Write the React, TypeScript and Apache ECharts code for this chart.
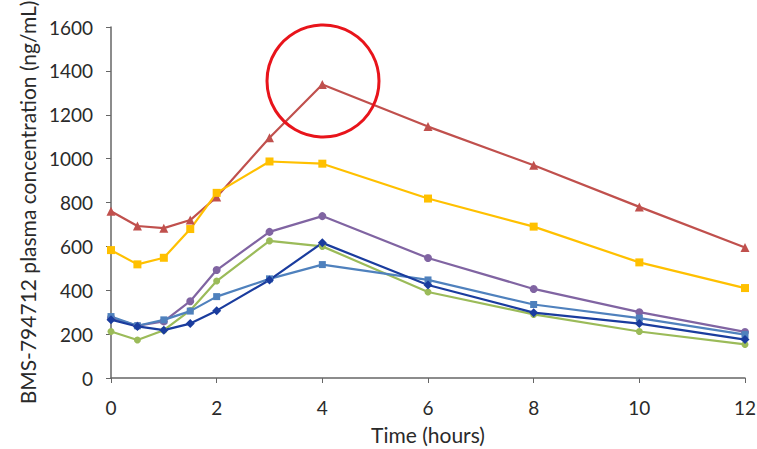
import React, { useEffect, useRef } from "react";
import * as echarts from "echarts";

const times = [0, 0.5, 1, 1.5, 2, 3, 4, 6, 8, 10, 12];
const seriesNames = ["Red", "Yellow", "Purple", "Green", "Light blue", "Dark blue"];
const redValues = [760, 693, 683, 720, 825, 1095, 1338, 1146, 970, 780, 595];
const yellowValues = [583, 518, 548, 679, 844, 987, 977, 818, 690, 527, 410];
const purpleValues = [275, 238, 258, 350, 492, 666, 738, 547, 406, 300, 210];
const greenValues = [212, 173, 218, 308, 442, 625, 600, 392, 290, 212, 153];
const lightBlueValues = [280, 238, 265, 305, 371, 452, 517, 447, 335, 273, 198];
const darkBlueValues = [266, 235, 218, 248, 307, 447, 616, 424, 298, 248, 175];
const xTicks = [0, 2, 4, 6, 8, 10, 12];
const yTicks = [0, 200, 400, 600, 800, 1000, 1200, 1400, 1600];

const FONT = "Lato";

export default function App() {
  const ref = useRef<HTMLDivElement>(null);
  useEffect(() => {
    if (!ref.current) return;
    const chart = echarts.init(ref.current, undefined, { renderer: "svg" });
    const mk = (vals: number[]) => vals.map((v, i) => [times[i], v]);
    const defs = [
      { name: seriesNames[0], data: redValues, color: "#C0504D", symbol: "triangle", size: 9 },
      { name: seriesNames[1], data: yellowValues, color: "#FFC000", symbol: "rect", size: 8 },
      { name: seriesNames[2], data: purpleValues, color: "#8064A2", symbol: "circle", size: 8 },
      { name: seriesNames[3], data: greenValues, color: "#9BBB59", symbol: "circle", size: 7 },
      { name: seriesNames[4], data: lightBlueValues, color: "#4F81BD", symbol: "rect", size: 7 },
      { name: seriesNames[5], data: darkBlueValues, color: "#1A3C9E", symbol: "diamond", size: 9 },
    ];
    chart.setOption({
      animation: false,
      backgroundColor: "#ffffff",
      grid: {
        left: 111,
        right: 12,
        top: 27,
        bottom: 71,
        containLabel: false,
        outerBoundsMode: "none",
      },
      xAxis: {
        type: "value",
        min: 0,
        max: 12,
        interval: 2,
        name: "Time (hours)",
        nameLocation: "middle",
        nameGap: 46,
        nameTextStyle: { fontFamily: FONT, fontSize: 21, color: "#2a2a2a" },
        axisLine: { lineStyle: { color: "#666", width: 1.5 } },
        axisTick: { show: true, length: 5, inside: false, lineStyle: { color: "#666" } },
        axisLabel: {
          fontFamily: FONT,
          fontSize: 19,
          color: "#2a2a2a",
          margin: 20,
          formatter: (v: number) => (xTicks.includes(v) ? String(v) : ""),
        },
        splitLine: { show: false },
      },
      yAxis: {
        type: "value",
        min: 0,
        max: 1600,
        interval: 200,
        name: "BMS-794712 plasma concentration (ng/mL)",
        nameLocation: "middle",
        nameRotate: 90,
        nameGap: 70,
        nameTextStyle: { fontFamily: FONT, fontSize: 21, color: "#2a2a2a" },
        axisLine: { show: true, lineStyle: { color: "#666", width: 1.5 } },
        axisTick: { show: true, length: 5, inside: false, lineStyle: { color: "#666" } },
        axisLabel: {
          fontFamily: FONT,
          fontSize: 19,
          color: "#2a2a2a",
          margin: 18,
          formatter: (v: number) => (yTicks.includes(v) ? String(v) : ""),
        },
        splitLine: { show: false },
      },
      series: defs.map((d) => ({
        type: "line",
        name: d.name,
        data: mk(d.data),
        symbol: d.symbol,
        symbolSize: d.size,
        showSymbol: true,
        lineStyle: { color: d.color, width: 2.2 },
        itemStyle: { color: d.color },
        emphasis: { disabled: true },
      })),
      graphic: [
        {
          type: "circle",
          shape: { cx: 323, cy: 81, r: 56 },
          style: { fill: "none", stroke: "#E8141B", lineWidth: 3 },
          z: 100,
        },
      ],
    });
    return () => chart.dispose();
  }, []);
  return <div ref={ref} style={{ width: 757, height: 449, position: "absolute", left: 0, top: 0 }} />;
}
